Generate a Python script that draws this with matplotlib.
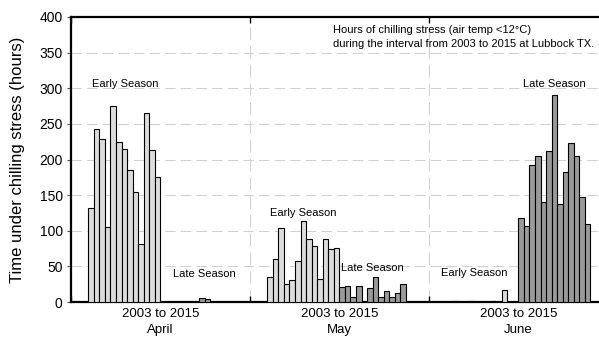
import numpy as np
import matplotlib
matplotlib.use("Agg")
import matplotlib.pyplot as plt

plt.rcParams['font.family'] = ['Liberation Sans', 'DejaVu Sans']

# hours of chilling stress, one value per year 2003..2015
years = list(range(2003, 2016))
months = ["April", "May", "June"]
april_early = [132, 243, 229, 105, 275, 224, 215, 185, 154, 81, 265, 213, 175]
april_late = [0, 0, 0, 0, 0, 0, 0, 5, 4, 0, 0, 0, 0]
may_early = [35, 61, 104, 25, 31, 58, 113, 88, 79, 32, 89, 74, 76]
may_late = [21, 22, 7, 22, 0, 20, 35, 7, 15, 7, 12, 25, 0]
june_early = [0, 1, 0, 0, 2, 0, 0, 0, 1, 0, 17, 0, 0]
june_late = [118, 107, 192, 205, 140, 212, 290, 138, 182, 223, 205, 148, 110]

early = [april_early, may_early, june_early]
late = [april_late, may_late, june_late]

SEC = 32.3          # width of one month block in bar units
OFF = 3.12          # gap before the early-season bars
n = len(years)

fig = plt.figure(figsize=(5.99, 3.39), dpi=100)
ax = fig.add_axes([71 / 599, 37 / 339, 537 / 599, 285 / 339])

light = "#dcdcdc"
dark = "#9a9a9a"
idx = np.arange(n)
for m in range(3):
    x0 = m * SEC + OFF
    ax.bar(x0 + idx + 0.5, early[m], width=1.0, color=light,
           edgecolor="black", linewidth=0.8, zorder=3)
    ax.bar(x0 + n + idx + 0.5, late[m], width=1.0, color=dark,
           edgecolor="black", linewidth=0.8, zorder=3)

ax.set_xlim(0, 3 * SEC)
ax.set_ylim(0, 400)

# grid
for y in range(50, 400, 50):
    ax.axhline(y, color="#d0d0d0", lw=0.75, ls=(0, (10, 5)), zorder=1)
for m in (1, 2):
    ax.axvline(m * SEC, color="#d0d0d0", lw=0.75, ls=(0, (12, 6)), zorder=1)

ax.set_yticks(range(0, 401, 50))
ax.tick_params(axis="y", direction="out", length=3, width=0.8,
               labelsize=10, pad=3, color="#555555")
ax.set_xticks([m * SEC for m in range(4)])
ax.set_xticklabels([])
ax.tick_params(axis="x", which="major", direction="in", length=4,
               width=1, top=True)
ax.set_xticks([(m + 0.5) * SEC for m in range(3)], minor=True)
ax.set_xticklabels(["%d to %d\n%s" % (years[0], years[-1], mo) for mo in months],
                   minor=True, fontsize=9.5, linespacing=1.5)
ax.tick_params(axis="x", which="minor", length=0, pad=4)

for s in ax.spines.values():
    s.set_linewidth(1.6)

fig.text(18 / 599, 0.5295, "Time under chilling stress (hours)",
         rotation=90, ha="center", va="center", fontsize=12)

# season labels, placed by pixel position in the reference
def px(xp):
    return (xp - 71) / 537 * 3 * SEC

def val(yp):
    return (302 - yp) / 285 * 400

labels = [(125.5, 84, "Early Season"), (204, 274, "Late Season"),
          (303, 212.7, "Early Season"), (372, 268, "Late Season"),
          (474, 273, "Early Season"), (554, 84, "Late Season")]
for xp, yp, t in labels:
    ax.text(px(xp), val(yp), t, ha="center", va="center", fontsize=8, zorder=4)

ax.text(px(333), val(30), "Hours of chilling stress (air temp <12\u00b0C)",
        ha="left", va="center", fontsize=8)
ax.text(px(333), val(44), "during the interval from 2003 to 2015 at Lubbock TX.",
        ha="left", va="center", fontsize=8)

fig.savefig("out.png", dpi=100)
